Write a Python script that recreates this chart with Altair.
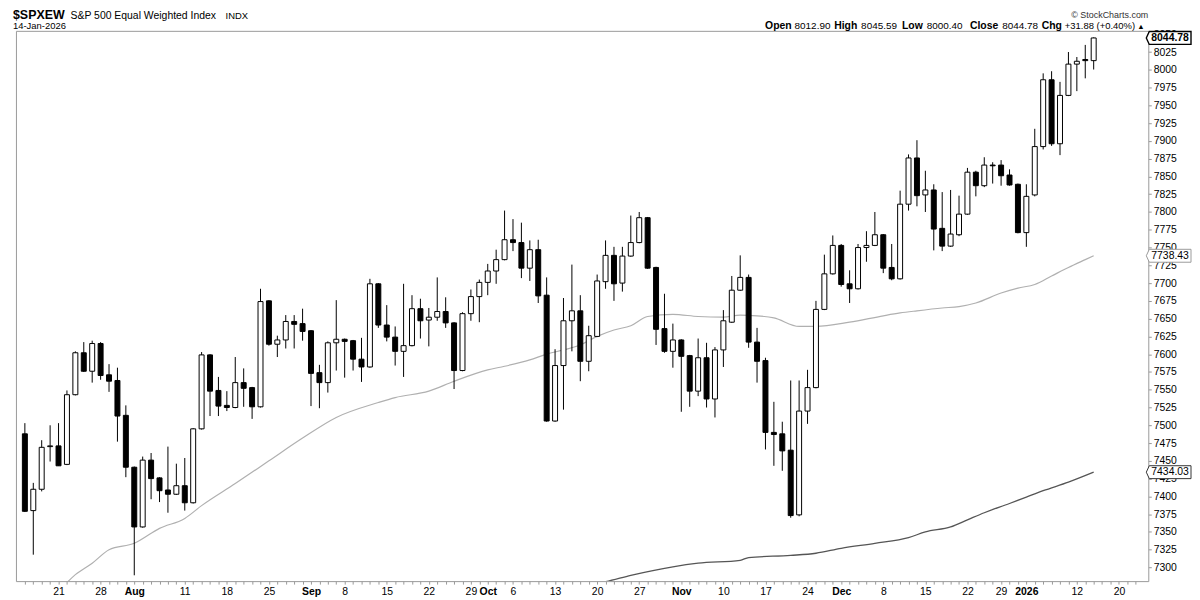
import altair as alt
import pandas as pd

# ---------------- data ----------------
opens = [7488, 7380, 7410, 7470, 7471, 7445, 7543, 7602, 7576, 7615,
         7571, 7563, 7514, 7441, 7357, 7451, 7426, 7409, 7403, 7415,
         7391, 7495, 7599, 7549, 7528, 7525, 7560, 7553, 7526, 7675,
         7614, 7620, 7646, 7643, 7633, 7574, 7560, 7616, 7621, 7619,
         7593, 7582, 7699, 7641, 7624, 7604, 7612, 7664, 7648, 7652,
         7660, 7644, 7577, 7657, 7681, 7701, 7717, 7733, 7761, 7757,
         7721, 7747, 7683, 7506, 7584, 7647, 7661, 7590, 7625, 7702,
         7739, 7700, 7738, 7757, 7792, 7722, 7636, 7604, 7620, 7598,
         7548, 7595, 7537, 7606, 7645, 7690, 7708, 7617, 7591, 7490,
         7488, 7465, 7374, 7520, 7553, 7663, 7713, 7753, 7699, 7692,
         7750, 7753, 7768, 7722, 7706, 7811, 7876, 7824, 7831, 7777,
         7752, 7768, 7797, 7856, 7837, 7866, 7866, 7852, 7839, 7771,
         7824, 7892, 7986, 7896, 7964, 8008, 8014.5, 8012.90]
highs = [7503, 7419, 7479, 7500, 7503, 7549, 7604, 7617, 7619, 7617,
         7586, 7581, 7528, 7442, 7456, 7461, 7427, 7470, 7446, 7454,
         7496, 7603, 7600, 7568, 7548, 7596, 7580, 7554, 7692, 7676,
         7626, 7655, 7655, 7664, 7634, 7585, 7618, 7676, 7622, 7620,
         7623, 7706, 7700, 7669, 7639, 7699, 7683, 7678, 7665, 7708,
         7680, 7645, 7659, 7691, 7705, 7727, 7747, 7802, 7790, 7785,
         7760, 7761, 7708, 7607, 7679, 7726, 7683, 7640, 7712, 7760,
         7751, 7751, 7795, 7800, 7793, 7723, 7685, 7643, 7621, 7599,
         7622, 7616, 7610, 7662, 7710, 7739, 7712, 7637, 7595, 7533,
         7505, 7563, 7563, 7578, 7675, 7740, 7767, 7755, 7718, 7755,
         7773, 7800, 7769, 7755, 7830, 7881, 7901, 7858, 7839, 7828,
         7831, 7823, 7862, 7858, 7877, 7870, 7873, 7860, 7840, 7839,
         7917, 7995, 7998, 7983, 8025, 8018, 8035, 8045.59]
lows = [7378, 7318, 7407, 7449, 7443, 7444, 7542, 7575, 7560, 7564,
        7547, 7477, 7427, 7289, 7356, 7396, 7392, 7377, 7402, 7380,
        7390, 7494, 7513, 7513, 7520, 7524, 7526, 7509, 7525, 7612,
        7596, 7608, 7608, 7619, 7527, 7524, 7546, 7577, 7567, 7577,
        7561, 7581, 7637, 7618, 7584, 7568, 7611, 7622, 7611, 7647,
        7637, 7551, 7576, 7647, 7645, 7683, 7699, 7732, 7745, 7707,
        7703, 7672, 7505, 7505, 7522, 7604, 7562, 7576, 7624, 7692,
        7675, 7688, 7737, 7756, 7720, 7613, 7602, 7581, 7519, 7526,
        7541, 7525, 7511, 7582, 7644, 7689, 7609, 7560, 7466, 7443,
        7436, 7370, 7372, 7502, 7552, 7662, 7712, 7695, 7672, 7691,
        7730, 7752, 7714, 7704, 7705, 7802, 7808, 7800, 7746, 7745,
        7751, 7766, 7796, 7822, 7835, 7840, 7837, 7837, 7770, 7751,
        7822, 7888, 7893, 7880, 7963, 7970, 7988, 8000.40]
closes = [7379, 7410, 7469, 7471, 7443, 7543, 7602, 7576, 7615, 7570,
          7562, 7513, 7441, 7357, 7451, 7425, 7408, 7403, 7415, 7391,
          7495, 7599, 7548, 7527, 7525, 7560, 7552, 7526, 7674, 7614,
          7620, 7646, 7642, 7632, 7573, 7560, 7616, 7621, 7618, 7593,
          7582, 7699, 7641, 7624, 7604, 7612, 7664, 7647, 7652, 7660,
          7644, 7577, 7657, 7681, 7701, 7717, 7733, 7761, 7757, 7721,
          7747, 7682, 7506, 7584, 7647, 7661, 7590, 7626, 7703, 7739,
          7699, 7738, 7757, 7792, 7721, 7635, 7604, 7620, 7597, 7548,
          7595, 7537, 7606, 7647, 7690, 7708, 7617, 7590, 7490, 7487,
          7464, 7373, 7520, 7553, 7663, 7713, 7753, 7698, 7692, 7750,
          7753, 7768, 7721, 7706, 7811, 7876, 7823, 7831, 7776, 7752,
          7769, 7797, 7856, 7837, 7866, 7865, 7851, 7838, 7771, 7822,
          7892, 7986, 7896, 7964, 8008, 8012, 8012.90, 8044.78]

ma50_idx = [4, 6, 8, 10, 13, 16, 19, 21, 25, 29, 33, 37, 42, 44, 48, 51,
            55, 57, 60, 62, 64, 66, 68, 70, 72, 74, 77, 80, 83, 85, 87, 89,
            92, 94, 98, 102, 104, 106, 109, 111, 113, 116, 118, 120, 122,
            124, 126, 127]
ma50_val = [7266, 7290, 7306, 7325, 7334, 7355, 7369, 7387, 7418, 7450,
            7482, 7511, 7532, 7539, 7548, 7562, 7578, 7583, 7592, 7600,
            7606, 7613, 7625, 7634, 7640, 7653, 7656, 7653, 7652, 7655,
            7654, 7651, 7639, 7639, 7645, 7654, 7658, 7661, 7665, 7667,
            7672, 7686, 7693, 7698, 7710, 7722, 7733, 7738.43]

ma200_idx = [66, 69, 72, 77, 80, 85, 86, 91, 94, 97, 101, 105, 107, 110,
             112, 114, 117, 119, 121, 124, 127]
ma200_val = [7274, 7280, 7289, 7301, 7306, 7310, 7314, 7317, 7320, 7327,
             7334, 7342, 7350, 7357, 7367, 7377, 7390, 7399, 7408, 7420,
             7434.03]

xlabel_idx = [4, 9, 13, 19, 24, 29, 34, 38, 43, 48, 53, 55, 58, 63, 68, 73,
              78, 83, 88, 93, 97, 102, 107, 112, 116, 119, 125, 130]
xlabel_txt = ["21", "28", "Aug", "11", "18", "25", "Sep", "8", "15", "22",
              "29", "Oct", "6", "13", "20", "27", "Nov", "10", "17", "24",
              "Dec", "8", "15", "22", "29", "2026", "12", "20"]
month_idx = [13, 34, 55, 78, 97, 119]
xtick_vals = list(range(0, 133))
ytick_vals = list(range(7300, 8051, 25))

title_sym = "$SPXEW"
title_name = "S&P 500 Equal Weighted Index"
title_exch = "INDX"
title_date = "14-Jan-2026"
brand = "\u00a9 StockCharts.com"
ohlc_labels = ["Open", "High", "Low", "Close", "Chg"]
ohlc_values = ["8012.90", "8045.59", "8000.40", "8044.78", "+31.88 (+0.40%)"]
up_arrow = "\u25b2"
box_vals = [8044.78, 7738.43, 7434.03]

# ---------------- chart ----------------
FONT = "Liberation Sans"
W, H = 1140, 554

candles = pd.DataFrame({"i": list(range(len(opens))), "open": opens,
                        "high": highs, "low": lows, "close": closes})
ma50 = pd.DataFrame({"i": ma50_idx, "v": ma50_val})
ma200 = pd.DataFrame({"i": ma200_idx, "v": ma200_val})

xscale = alt.Scale(domain=[-0.47, 132.9], nice=False, zero=False)
yscale = alt.Scale(domain=[7280.8, 8054.8], nice=False, zero=False)

idx_js = "[" + ",".join(str(v) for v in xlabel_idx) + "]"
txt_js = "[" + ",".join("'" + t + "'" for t in xlabel_txt) + "]"
mon_js = "[" + ",".join(str(v) for v in month_idx) + "]"

xaxis = alt.Axis(
    values=xtick_vals,
    labelExpr=f"indexof({idx_js}, datum.value) >= 0 ? {txt_js}[indexof({idx_js}, datum.value)] : ''",
    labelFontWeight={"condition": {"test": f"indexof({mon_js}, datum.value) >= 0", "value": "bold"},
                     "value": "normal"},
    tickSize=3, tickColor="#999999", domain=False, grid=False,
    labelOverlap=False, labelFlush=False, labelFont=FONT, labelFontSize=10.5,
    labelColor="#000000", labelPadding=2, title=None)

yaxis = alt.Axis(
    orient="right", values=ytick_vals, format="d", tickSize=3,
    tickColor="#999999", domain=False, grid=False, labelFont=FONT,
    labelFontSize=10.5, labelColor="#000000", labelPadding=2, title=None,
    labelOverlap=False, labelFlush=False)


def X(f):
    return alt.X(f"{f}:Q", scale=xscale, axis=xaxis)


def Y(f):
    return alt.Y(f"{f}:Q", scale=yscale, axis=yaxis)


l50 = alt.Chart(ma50).mark_line(color="#b0b0b0", strokeWidth=1.2, clip=True,
                                interpolate="monotone").encode(x=X("i"), y=Y("v"))
l200 = alt.Chart(ma200).mark_line(color="#555555", strokeWidth=1.3, clip=True,
                                  interpolate="monotone").encode(x=X("i"), y=Y("v"))

base = alt.Chart(candles)
wicks = base.mark_rule(color="black", strokeWidth=1).encode(
    x=X("i"), y=Y("low"), y2="high")
bodies = base.mark_bar(size=5, stroke="black", strokeWidth=1).encode(
    x=X("i"), y=Y("open"), y2="close",
    fill=alt.when("datum.close >= datum.open").then(alt.value("white")).otherwise(alt.value("black")))

box_path = "M-3,0L0,-6.5L42,-6.5L42,6.5L0,6.5Z"
box_styles = [("black", "bold", 1.4), ("#9a9a9a", "normal", 1.0), ("#333333", "normal", 1.0)]
box_layers = []
for val, (stk, wt, sw) in zip(box_vals, box_styles):
    d = pd.DataFrame({"v": [val], "t": [f"{val:.2f}"]})
    box_layers.append(
        alt.Chart(d).mark_point(shape=box_path, size=4, filled=True, fill="white",
                                stroke=stk, strokeWidth=sw, opacity=1, clip=False)
        .encode(x=alt.value(1141), y=Y("v")))
    box_layers.append(
        alt.Chart(d).mark_text(align="left", baseline="middle", font=FONT,
                               fontSize=10.5, fontWeight=wt, color="black", clip=False)
        .encode(x=alt.value(1143), y=Y("v"), text="t:N"))


def label(txt, x, y, size, weight="normal", align="left", color="black"):
    d = pd.DataFrame({"t": [txt]})
    return alt.Chart(d).mark_text(align=align, baseline="alphabetic", font=FONT,
                                  fontSize=size, fontWeight=weight, color=color,
                                  clip=False).encode(
        x=alt.value(x), y=alt.value(y), text="t:N")


ROW1, ROW2 = -11.5, -2.2
headers = [
    label(title_sym, -3, ROW1, 12.5, "bold"),
    label(title_name, 55, ROW1, 10.5),
    label(title_exch, 211, ROW1, 9.5),
    label(title_date, -3, ROW2, 9.5),
    label(brand, 1140, -12.5, 9, align="right", color="#333333"),
]
# right edges (plot px) of each bold label and of each value
label_right = [781, 847, 913, 989, 1053]
value_right = [820, 887, 953, 1029]
for txt, xr in zip(ohlc_labels, label_right):
    headers.append(label(txt, xr, ROW2, 10.5, "bold", align="right"))
for txt, xr in zip(ohlc_values[:4], value_right):
    headers.append(label(txt, xr, ROW2, 10, align="right"))
headers.append(label(ohlc_values[4], 1056, ROW2, 9.5))
headers.append(label(up_arrow, 1129, ROW2, 7.5))

chart = alt.layer(l50, l200, wicks, bodies, *box_layers, *headers).properties(
    width=W, height=H,
    padding={"left": 8, "top": 21, "right": 44, "bottom": 16},
    autosize=alt.AutoSizeParams(type="none"),
).configure_view(stroke="#999999", strokeWidth=1)

chart.save("out.html", embed_options={"renderer": "svg", "actions": False})
